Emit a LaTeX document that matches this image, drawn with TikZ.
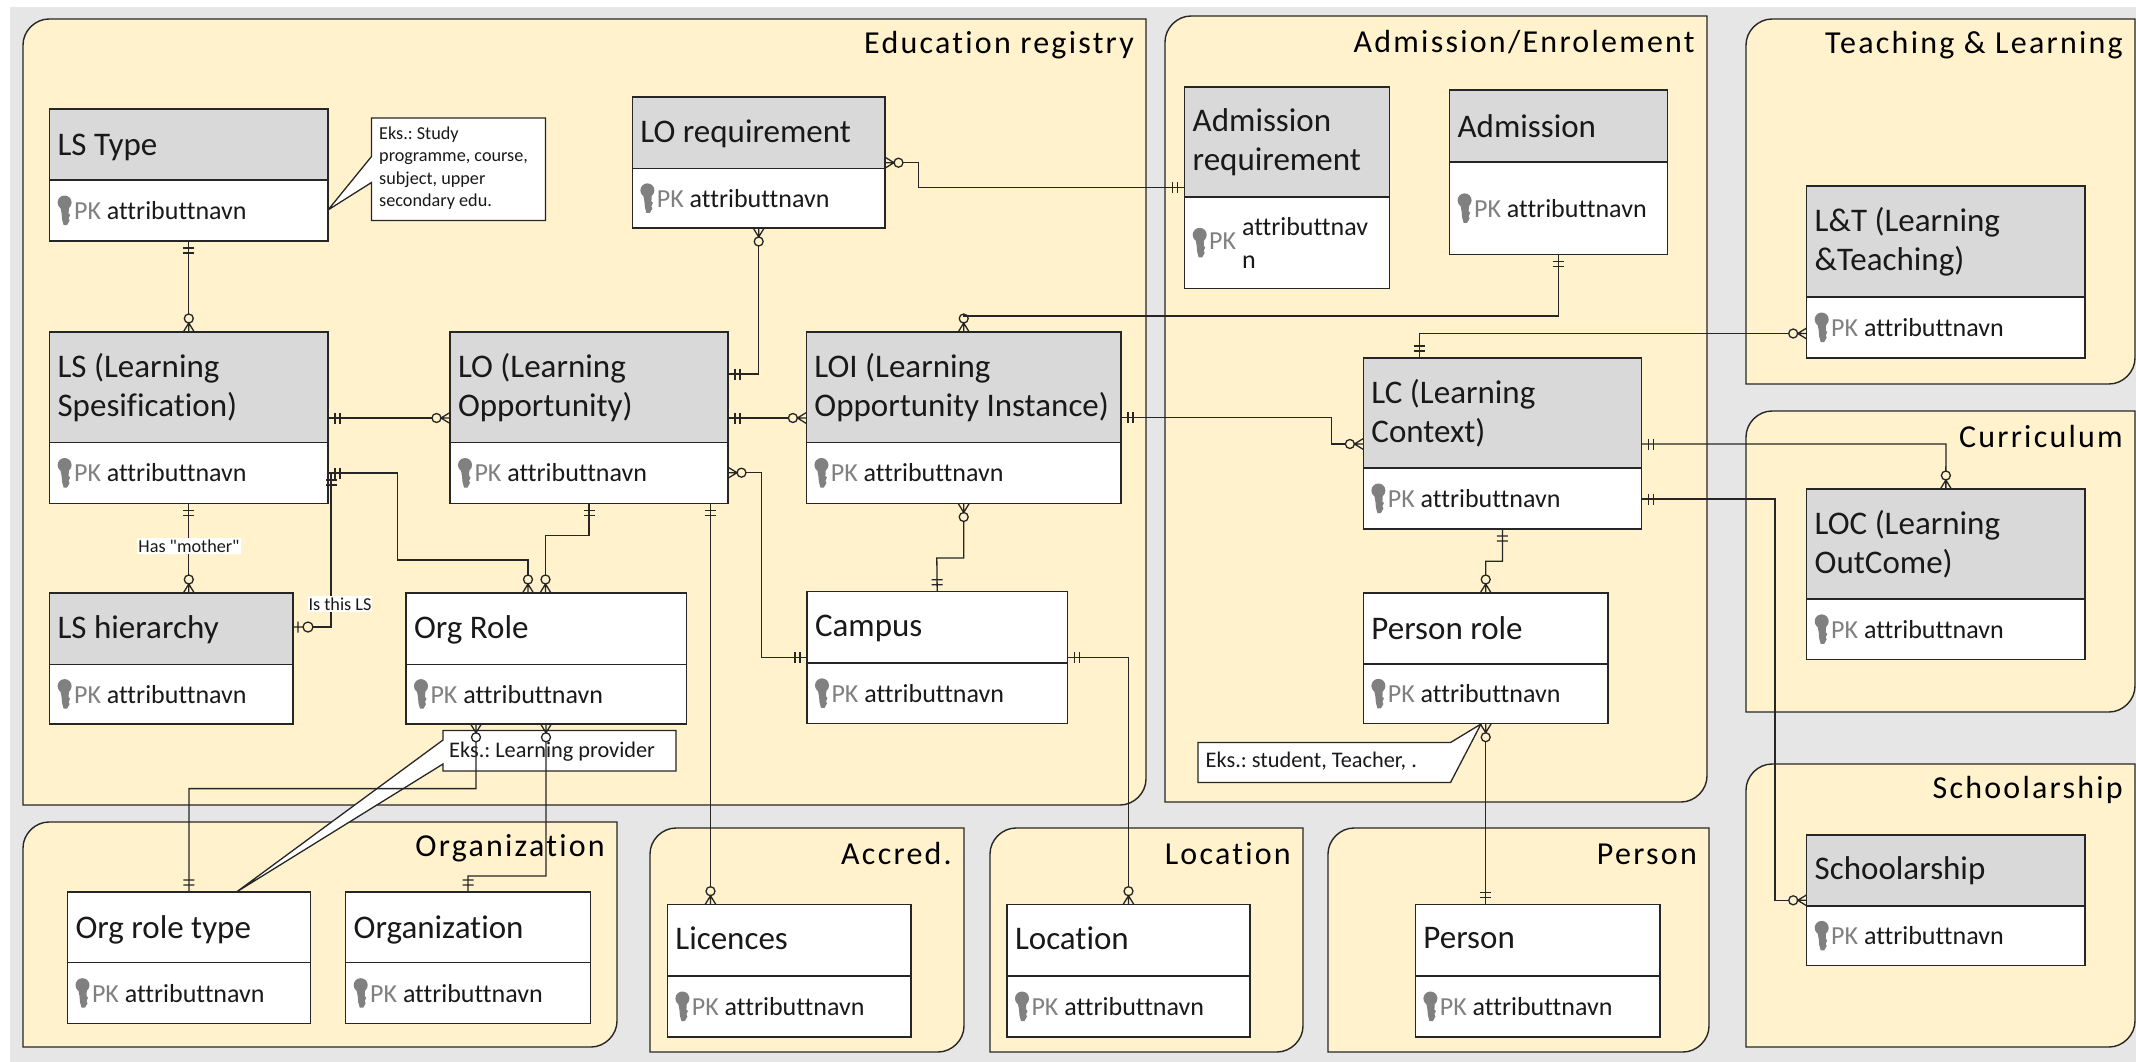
\documentclass[tikz,border=0pt]{standalone}
\usepackage{fontspec}
\setmainfont[Ligatures=NoCommon]{Carlito}
\newfontfamily\titlefont[Ligatures=NoCommon, LetterSpace=7]{Carlito}
\newfontfamily\labelfont[Ligatures=NoCommon]{Carlito}
\newcommand\nudge[2]{\raisebox{#1}[\height][\depth]{#2}}

\definecolor{bggray}{HTML}{E6E6E6}
\definecolor{panelcol}{HTML}{FFF2CC}
\definecolor{headcol}{HTML}{D9D9D9}
\definecolor{linecol}{HTML}{262626}
\definecolor{keygray}{HTML}{808080}

% Crow's foot ends
\pgfdeclarearrow{
  name=erone,
  setup code={\pgfarrowssetbackend{-13pt}\pgfarrowssetvisualbackend{-13pt}\pgfarrowssetlineend{0pt}\pgfarrowssettipend{0pt}},
  drawing code={
    \pgfpathmoveto{\pgfpoint{-7pt}{-5.5pt}}\pgfpathlineto{\pgfpoint{-7pt}{5.5pt}}
    \pgfpathmoveto{\pgfpoint{-12pt}{-5.5pt}}\pgfpathlineto{\pgfpoint{-12pt}{5.5pt}}
    \pgfusepathqstroke}
}
\pgfdeclarearrow{
  name=ermany,
  setup code={\pgfarrowssetbackend{-18pt}\pgfarrowssetvisualbackend{-18pt}\pgfarrowssetlineend{-18pt}\pgfarrowssettipend{0pt}},
  drawing code={
    \pgfpathmoveto{\pgfpoint{0pt}{5.5pt}}\pgfpathlineto{\pgfpoint{-9pt}{0pt}}\pgfpathlineto{\pgfpoint{0pt}{-5.5pt}}
    \pgfpathmoveto{\pgfpoint{0pt}{0pt}}\pgfpathlineto{\pgfpoint{-9pt}{0pt}}
    \pgfpathcircle{\pgfpoint{-13.5pt}{0pt}}{4.5pt}
    \pgfusepathqstroke}
}
\pgfdeclarearrow{
  name=erzeroone,
  setup code={\pgfarrowssetbackend{-20pt}\pgfarrowssetvisualbackend{-20pt}\pgfarrowssetlineend{-20pt}\pgfarrowssettipend{0pt}},
  drawing code={
    \pgfpathmoveto{\pgfpoint{-5pt}{-5.5pt}}\pgfpathlineto{\pgfpoint{-5pt}{5.5pt}}
    \pgfpathmoveto{\pgfpoint{0pt}{0pt}}\pgfpathlineto{\pgfpoint{-10pt}{0pt}}
    \pgfpathcircle{\pgfpoint{-15pt}{0pt}}{5pt}
    \pgfusepathqstroke}
}

\tikzset{
  panel/.style={draw=linecol, fill=panelcol, line width=1.4pt},
  paneltitle/.style={anchor=east, inner sep=0pt, text=black, font=\fontsize{32}{38}\titlefont},
  headbox/.style={anchor=north west, draw=linecol, line width=1.5pt, outer sep=0pt, inner xsep=8pt, inner ysep=0pt, align=flush left, text=black!90, font=\fontsize{33}{39}\selectfont},
  bodybox/.style={headbox, fill=white, font=\fontsize{26}{33}\selectfont},
  notebox/.style={draw=linecol, fill=white, line width=1.3pt, line join=miter},
  notetext/.style={anchor=west, inner sep=0pt, align=flush left, text=black!90, font=\fontsize{22.3}{26}\selectfont\frenchspacing},
  smalltext/.style={notetext, font=\fontsize{18.2}{22.4}\selectfont\frenchspacing},
  rellabel/.style={fill=white, inner xsep=1pt, inner ysep=1.5pt, text=black!90, font=\fontsize{18.2}{22}\labelfont},
  relation/.style={draw=linecol, line width=1.3pt},
  pics/pkkey/.style={code={
    \fill[keygray] (15,-8) circle (7);
    \fill[keygray] (10.5,-5) -- (19.5,-5) -- (19,3) -- (20.5,4.5) -- (19,8) -- (20,10) -- (17.5,14.5) -- (14,14.5) -- (12.5,9) -- (12,3) -- cycle;
  }}
}

\begin{document}
\begin{tikzpicture}[x=1pt, y=-1pt]
\useasboundingbox (0,0) rectangle (2136,1062);
\fill[bggray] (10,7) rectangle (2136,1062);

% Panels
\foreach \n/\xa/\ya/\xb/\yb/\txt in {
    education/23/19/1146/805/{Education registry},
    admission/1165/16/1707/802/{Admission/Enrolement},
    teaching/1746/19/2135/384/{Teaching \& Learning},
    curriculum/1746/411/2135/712/{Curriculum},
    scholarship/1746/764/2135/1047/{Schoolarship},
    organization/23/822/617/1047/{Organization},
    accred/650/828/964/1052/{Accred.},
    locationarea/990/828/1303/1052/{Location},
    personarea/1328/828/1709/1052/{Person}} {
    \draw[panel] (\xa,{\ya+26}) .. controls (\xa,{\ya+12}) and ({\xa+12},\ya) .. ({\xa+26},\ya)
        -- (\xb,\ya) -- (\xb,{\yb-26}) .. controls (\xb,{\yb-12}) and ({\xb-12},\yb) .. ({\xb-26},\yb)
        -- (\xa,\yb) -- cycle;
    \node[paneltitle] (\n_title) at ({\xb-12},{\ya+26}) {\txt};
}

% Notes
\draw[notebox] (371.5,118) -- (545.5,118) -- (545.5,220.5) -- (371.5,220.5) -- (371.5,182.5) -- (328,210) -- (371.5,156.5) -- cycle;
\node[smalltext] (note_lstype) at (379,168) {Eks.: Study\\programme, course,\\subject, upper\\secondary edu.};
\draw[notebox] (443,730.5) -- (676,730.5) -- (676,771) -- (443,771) -- (443,764) -- (236.5,892) -- (443,740) -- cycle;
\node[notetext] (note_orgrole) at (449,751.5) {Eks.: Learning provider};
\draw[notebox] (1198,742.5) -- (1450.5,742.5) -- (1481,724) -- (1450.5,782.5) -- (1198,782.5) -- cycle;
\node[notetext] (note_personrole) at (1205.5,761.5) {Eks.: student, Teacher, .};

% Entities
\foreach \n/\xa/\ya/\yd/\xb/\yb/\col/\txt in {
    lstype/49.6/109/180/328/241/headcol/{\nudge{-2.5pt}{LS Type}},
    ls/49.6/332/442.5/328/503.5/headcol/{LS (Learning\\Spesification)},
    lo/450/332/442.5/728/503.5/headcol/{LO (Learning\\Opportunity)},
    loi/806.4/332/442.5/1121/503.5/headcol/{LOI (Learning\\Opportunity Instance)},
    loreq/632.4/97/168.7/885/228/headcol/{\nudge{-1pt}{LO requirement}},
    admission/1449.6/90/162/1667.6/254.7/headcol/{Admission},
    lc/1363.4/358/468/1641.5/529/headcol/{LC (Learning\\Context)},
    personrole/1363.4/593/664/1608/723.7/white/{Person role},
    lt/1806.7/186/297/2085/358/headcol/{L\&T (Learning\\\&Teaching)},
    loc/1806.7/489/599/2085/659.7/headcol/{LOC (Learning\\OutCome)},
    schol/1806.7/835/906/2085/965.7/headcol/{Schoolarship},
    lshier/49.6/593/664.4/293/723.8/headcol/{\nudge{-1pt}{LS hierarchy}},
    orgrole/406/593/664.4/686.4/723.8/white/{\nudge{-1pt}{Org Role}},
    campus/807/591.7/663/1067.4/723.7/white/{\nudge{-1pt}{Campus}},
    orgtype/67.5/892/962.6/310.4/1023.7/white/{\nudge{-2.5pt}{Org role type}},
    org/345.7/892/962.6/590.4/1023.7/white/{\nudge{-2.5pt}{Organization}},
    licences/667.4/904.7/976/911/1037/white/{\nudge{2.5pt}{Licences}},
    location/1007/904.7/976/1250/1037/white/{\nudge{2.5pt}{Location}},
    person/1415.4/904.7/976/1660/1037/white/{\nudge{2.5pt}{Person}}} {
    \pgfmathsetmacro\boxw{\xb-\xa}
    \pgfmathsetmacro\textw{\xb-\xa-16}
    \pgfmathsetmacro\headh{\yd-\ya}
    \pgfmathsetmacro\bodyh{\yb-\yd}
    \node[headbox, fill=\col, minimum width=\boxw pt, minimum height=\headh pt, text width=\textw pt] (\n) at (\xa,\ya) {\txt};
    \node[bodybox, minimum width=\boxw pt, minimum height=\bodyh pt, text width=\textw pt] (\n_pk) at (\xa,\yd) {\hspace*{16.5pt}\textcolor{keygray}{PK} attributtnavn};
    \pic at (\n_pk.west) {pkkey};
}

% Admission requirement wraps its attribute
\node[headbox, fill=headcol, minimum width=205pt, minimum height=110pt, text width=189pt] (admreq) at (1184.7,87) {Admission\\requirement};
\node[bodybox, minimum width=205pt, minimum height=91.7pt, text width=189pt] (admreq_pk) at (1184.7,197) {\hspace*{16.5pt}\textcolor{keygray}{PK} \parbox[c]{130pt}{attributtnav\\n}};
\pic at (admreq_pk.west) {pkkey};

% Education registry relations
\draw[relation, erone-ermany] (lstype_pk.south) -- (ls.north);
\draw[relation, erone-ermany] (ls.east |- 0,418) -- (lo.west |- 0,418);
\draw[relation, erone-ermany] (ls_pk.east |- 0,473) -- (397.6,473) -- (397.6,560) -- (528,560) -- (orgrole.north -| 528,0);
\draw[relation] (ls_pk.east |- 0,473) -- (331,473);
\draw[relation, erone-erzeroone] (331,473) -- (331,627) -- (lshier.east |- 0,627);
\draw[relation, erone-ermany] (ls_pk.south) -- (lshier.north -| 188.8,0);
\draw[relation, erone-ermany] (lo_pk.south -| 589,0) -- (589,535.5) -- (545.5,535.5) -- (orgrole.north -| 545.5,0);
\draw[relation, erone-ermany] (lo_pk.south -| 710.5,0) -- (licences.north -| 710.5,0);
\draw[relation, erone-ermany] (lo.east |- 0,374) -- (758.7,374) -- (loreq_pk.south);
\draw[relation, erone-ermany] (lo.east |- 0,418) -- (loi.west |- 0,418);
\draw[relation, ermany-erone] (lo_pk.east |- 0,472.7) -- (761.4,472.7) -- (761.4,657.3) -- (campus.west |- 0,657.3);
\draw[relation, ermany-erone] (loi_pk.south) -- (963.7,558) -- (936.8,558) -- (campus.north);
\draw[relation, erone-ermany] (campus.east |- 0,657.3) -- (1128.5,657.3) -- (location.north);

% Across the panels
\draw[relation, ermany-erone] (loreq.east |- 0,162.7) -- (918.4,162.7) -- (918.4,187.3) -- (admreq.west |- 0,187.3);
\draw[relation, erone-ermany] (admission_pk.south) -- (1558.6,316) -- (963.7,316) -- (loi.north);
\draw[relation, erone-ermany] (loi.east |- 0,417.7) -- (1331.7,417.7) -- (1331.7,444) -- (lc.west |- 0,444);
\draw[relation, ermany-erone] (orgrole_pk.south -| 476,0) -- (476,788.6) -- (189,788.6) -- (orgtype.north);
\draw[relation, ermany-erone] (orgrole_pk.south -| 546,0) -- (546,876) -- (468,876) -- (org.north);

\draw[relation, erone-ermany] (lc.north -| 1419.7,0) -- (1419.7,333.5) -- (lt_pk.west |- 0,333.5);
\draw[relation, erone-ermany] (lc.east |- 0,444) -- (1945.9,444) -- (loc.north);
\draw[relation, erone-ermany] (lc_pk.east |- 0,499) -- (1775,499) -- (1775,900.3) -- (schol.west |- 0,900.3);
\draw[relation, erone-ermany] (lc_pk.south) -- (1502.4,561.3) -- (1485.7,561.3) -- (personrole.north);
\draw[relation, ermany-erone] (personrole_pk.south) -- (person.north -| 1485.7,0);

% Labels on the relations
\node[rellabel] (has_mother) at (189,546) {Has "mother"};
\node[rellabel] (is_this_ls) at (340,604) {Is this LS};

\end{tikzpicture}
\end{document}
